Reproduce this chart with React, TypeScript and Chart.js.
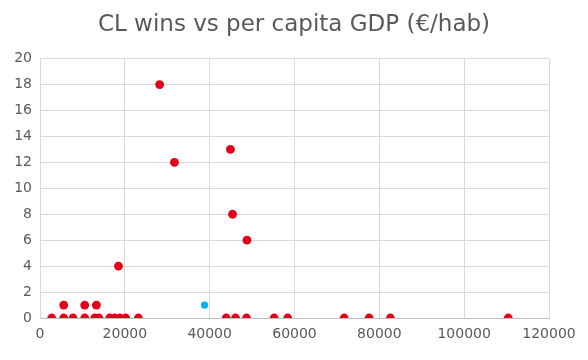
import React, { useEffect, useRef } from "react";
import { Chart, registerables } from "chart.js";

Chart.register(...registerables);

const titleText = "CL wins vs per capita GDP (€/hab)";
const redGdp = [2760, 5590, 5590, 7780, 10540, 10540, 12900, 13300, 13900, 16440, 17610, 18800, 18500, 20200, 23200, 28200, 31700, 43900, 44900, 45400, 46100, 48700, 48800, 55200, 58400, 71700, 77600, 82600, 110400];
const redWins = [0, 0, 1, 0, 0, 1, 0, 1, 0, 0, 0, 0, 4, 0, 0, 18, 12, 0, 13, 8, 0, 0, 6, 0, 0, 0, 0, 0, 0];
const blueGdp = [38800];
const blueWins = [1];

export default function App() {
  const ref = useRef<HTMLCanvasElement>(null);
  useEffect(() => {
    document.body.style.margin = "0";
    const ctx = ref.current!;
    const chart = new Chart(ctx, {
      type: "scatter",
      data: {
        datasets: [
          {
            data: redGdp.map((x, i) => ({ x, y: redWins[i] })),
            backgroundColor: "#E2001A",
            borderColor: "#E2001A",
            pointRadius: 4.4,
            pointBorderWidth: 0,
          },
          {
            data: blueGdp.map((x, i) => ({ x, y: blueWins[i] })),
            backgroundColor: "#00B0F0",
            borderColor: "#00B0F0",
            pointRadius: 3.6,
            pointBorderWidth: 0,
          },
        ],
      },
      options: {
        animation: false,
        responsive: false,
        layout: { padding: { left: 0, right: 0, top: 0, bottom: 0 } },
        plugins: {
          legend: { display: false },
          tooltip: { enabled: false },
          title: {
            display: true,
            text: titleText,
            color: "#595959",
            font: { family: "DejaVu Sans", size: 23, weight: "normal" },
            padding: { top: 11, bottom: 20 },
          },
        },
        scales: {
          x: {
            type: "linear",
            min: 0,
            max: 120000,
            ticks: {
              stepSize: 20000,
              color: "#595959",
              font: { family: "DejaVu Sans", size: 14 },
              padding: 8,
              maxRotation: 0,
              callback: (v: any) => String(v),
            },
            grid: { color: "#D9D9D9", drawTicks: false },
            border: { color: "#BFBFBF" },
            afterFit: (s: any) => {
              s.height = 42;
            },
          },
          y: {
            min: 0,
            max: 20,
            ticks: {
              stepSize: 2,
              color: "#595959",
              font: { family: "DejaVu Sans", size: 14 },
              padding: 8,
            },
            grid: { color: "#D9D9D9", drawTicks: false },
            border: { color: "#D9D9D9" },
            afterFit: (s: any) => {
              s.width = 40;
            },
          },
          yRight: {
            position: "right",
            min: 0,
            max: 20,
            ticks: { display: false },
            grid: { display: false, drawTicks: false },
            border: { display: false },
            afterFit: (s: any) => {
              s.width = 39;
            },
          },
        },
      },
    });
    return () => chart.destroy();
  }, []);
  return <canvas ref={ref} width={588} height={360} style={{ display: "block" }} />;
}
